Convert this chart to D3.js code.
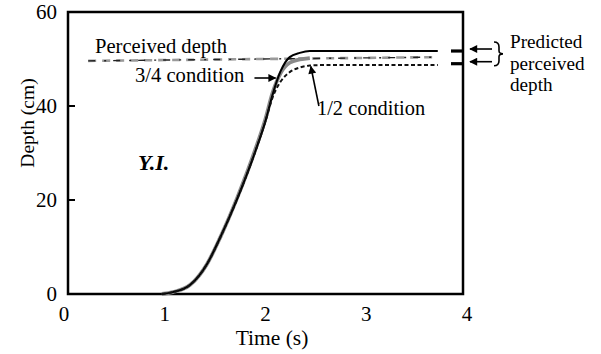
<!DOCTYPE html>
<html><head><meta charset="utf-8">
<script src="https://cdn.jsdelivr.net/npm/d3@7"></script>
<style>html,body{margin:0;padding:0;background:#fff}svg{display:block}
text{font-family:"Liberation Serif","Times New Roman",serif;}</style>
</head><body>
<svg id="c" width="601" height="354"></svg>
<script>
// ---- data ----
const xTicks = [0, 1, 2, 3, 4];
const yTicks = [0, 20, 40, 60];
const times      = [0.97, 1.08, 1.25, 1.42, 1.55, 1.72, 1.90, 2.00, 2.07, 2.15, 2.24, 2.34, 2.44, 2.55, 3.71];
const depthSolid = [0, 0.4, 1.9, 6.4, 12, 20.3, 30.4, 36.8, 42.4, 47.4, 50.4, 51.3, 51.7, 51.7, 51.7];
const depthHalf  = [0, 0.4, 1.9, 6.4, 12, 20.3, 30.4, 36.8, 41.8, 45.2, 47.2, 48.2, 48.6, 48.7, 48.7];
const grayTimes  = [0.97, 1.08, 1.25, 1.42, 1.55, 1.72, 1.90, 2.00, 2.07, 2.15, 2.24, 2.34, 2.44];
const depthGray  = [0, 0.4, 1.9, 6.4, 12, 20.5, 30.8, 37.3, 42.8, 47.0, 49.2, 49.9, 50.2];
const perceivedTimes = [0.24, 3.71];
const perceivedDepth = [49.6, 50.4];
const predictedDepth = [51.7, 49.0];
const predictedLabel = ["Predicted", "perceived", "depth"];

// ---- layout ----
const svg = d3.select("#c");
const frame = {left: 68, right: 463};
const x = d3.scaleLinear().domain([0, 4]).range([64, 467]);
const y = d3.scaleLinear().domain([0, 60]).range([294, 12]);

svg.append("defs").append("marker")
  .attr("id", "ah").attr("viewBox", "0 0 10 10").attr("refX", 9).attr("refY", 5)
  .attr("markerWidth", 9).attr("markerHeight", 8).attr("markerUnits", "userSpaceOnUse")
  .attr("orient", "auto")
  .append("path").attr("d", "M0,0 L10,5 L0,10 Z").attr("fill", "#000");

// frame
svg.append("rect")
  .attr("x", frame.left).attr("y", y(60))
  .attr("width", frame.right - frame.left).attr("height", y(0) - y(60))
  .attr("fill", "none").attr("stroke", "#000").attr("stroke-width", 2.5);

// y axis ticks (inward) and labels
svg.append("g").selectAll("line").data(yTicks.filter(d => d > 0 && d < 60)).join("line")
  .attr("x1", frame.left).attr("x2", frame.left + 7)
  .attr("y1", d => y(d)).attr("y2", d => y(d))
  .attr("stroke", "#000").attr("stroke-width", 2);
svg.append("g").selectAll("text").data(yTicks).join("text")
  .attr("x", 57).attr("y", d => y(d)).attr("dy", "0.35em")
  .attr("text-anchor", "end").attr("font-size", 21)
  .text(d => d);

// x labels
svg.append("g").selectAll("text").data(xTicks).join("text")
  .attr("x", d => x(d)).attr("y", 321)
  .attr("text-anchor", "middle").attr("font-size", 21)
  .text(d => d);

// axis titles
svg.append("text").attr("x", 272).attr("y", 345).attr("text-anchor", "middle")
  .attr("font-size", 21.5).text("Time (s)");
svg.append("text").attr("transform", "translate(34,123) rotate(-90)").attr("text-anchor", "middle")
  .attr("font-size", 19.5).text("Depth (cm)");

// lines
const line = d3.line().x(d => x(d[0])).y(d => y(d[1])).curve(d3.curveMonotoneX);
const zip = (a, b) => a.map((v, i) => [v, b[i]]);

svg.append("path").datum(zip(perceivedTimes, perceivedDepth)).attr("d", line)
  .attr("fill", "none").attr("stroke", "#9a9a9a").attr("stroke-width", 2.6)
  .attr("stroke-dasharray", "8,6");
svg.append("path").datum(zip(perceivedTimes, perceivedDepth)).attr("d", line)
  .attr("fill", "none").attr("stroke", "#222").attr("stroke-width", 1.4)
  .attr("stroke-dasharray", "7,9,2,7");

svg.append("path").datum(zip(grayTimes, depthGray)).attr("d", line)
  .attr("fill", "none").attr("stroke", "#8a8a8a").attr("stroke-width", 3.8);
svg.append("path").datum(zip(times, depthSolid)).attr("d", line)
  .attr("fill", "none").attr("stroke", "#000").attr("stroke-width", 2);
svg.append("path").datum(zip(times, depthHalf)).attr("d", line)
  .attr("fill", "none").attr("stroke", "#111").attr("stroke-width", 2)
  .attr("stroke-dasharray", "4,2.5");

// predicted perceived depth ticks on right frame
svg.append("g").selectAll("line").data(predictedDepth).join("line")
  .attr("x1", frame.right - 12).attr("x2", frame.right)
  .attr("y1", d => y(d)).attr("y2", d => y(d))
  .attr("stroke", "#000").attr("stroke-width", 3.2);
svg.append("g").selectAll("line").data(predictedDepth).join("line")
  .attr("x1", frame.right + 29).attr("x2", frame.right + 7)
  .attr("y1", d => y(d) - 2).attr("y2", d => y(d) - 2)
  .attr("stroke", "#000").attr("stroke-width", 1.6).attr("marker-end", "url(#ah)");
const bx = frame.right + 31, bt = y(predictedDepth[0]) - 9, bb = y(predictedDepth[1]) + 2, bm = (bt + bb) / 2;
svg.append("path")
  .attr("d", `M${bx},${bt} Q${bx+5},${bt} ${bx+5},${bt+5} L${bx+5},${bm-3} Q${bx+5},${bm} ${bx+9},${bm} Q${bx+5},${bm} ${bx+5},${bm+3} L${bx+5},${bb-5} Q${bx+5},${bb} ${bx},${bb}`)
  .attr("fill", "none").attr("stroke", "#000").attr("stroke-width", 1.6);

// multi-line label
svg.append("g").selectAll("text").data(predictedLabel).join("text")
  .attr("x", 510).attr("y", (d, i) => 48 + i * 21.5).attr("font-size", 19.2)
  .text(d => d);

// annotation texts
const txt = (tx, ty, s, size, extra) => {
  const t = svg.append("text").attr("x", tx).attr("y", ty).attr("font-size", size).text(s);
  if (extra) extra(t);
  return t;
};
txt(95, 53, "Perceived depth", 20.6);
txt(135, 82, "3/4 condition", 20.6);
txt(317, 115, "1/2 condition", 20.4);
txt(138, 170, "Y.I.", 22, t => t.attr("font-weight", "bold").attr("font-style", "italic"));

svg.append("line").attr("x1", x(1.89)).attr("y1", 78).attr("x2", x(2.1)).attr("y2", 78)
  .attr("stroke", "#000").attr("stroke-width", 1.6).attr("marker-end", "url(#ah)");
svg.append("line").attr("x1", x(2.53)).attr("y1", 106).attr("x2", x(2.45)).attr("y2", y(48.4))
  .attr("stroke", "#000").attr("stroke-width", 1.6).attr("marker-end", "url(#ah)");
</script>
</body></html>
